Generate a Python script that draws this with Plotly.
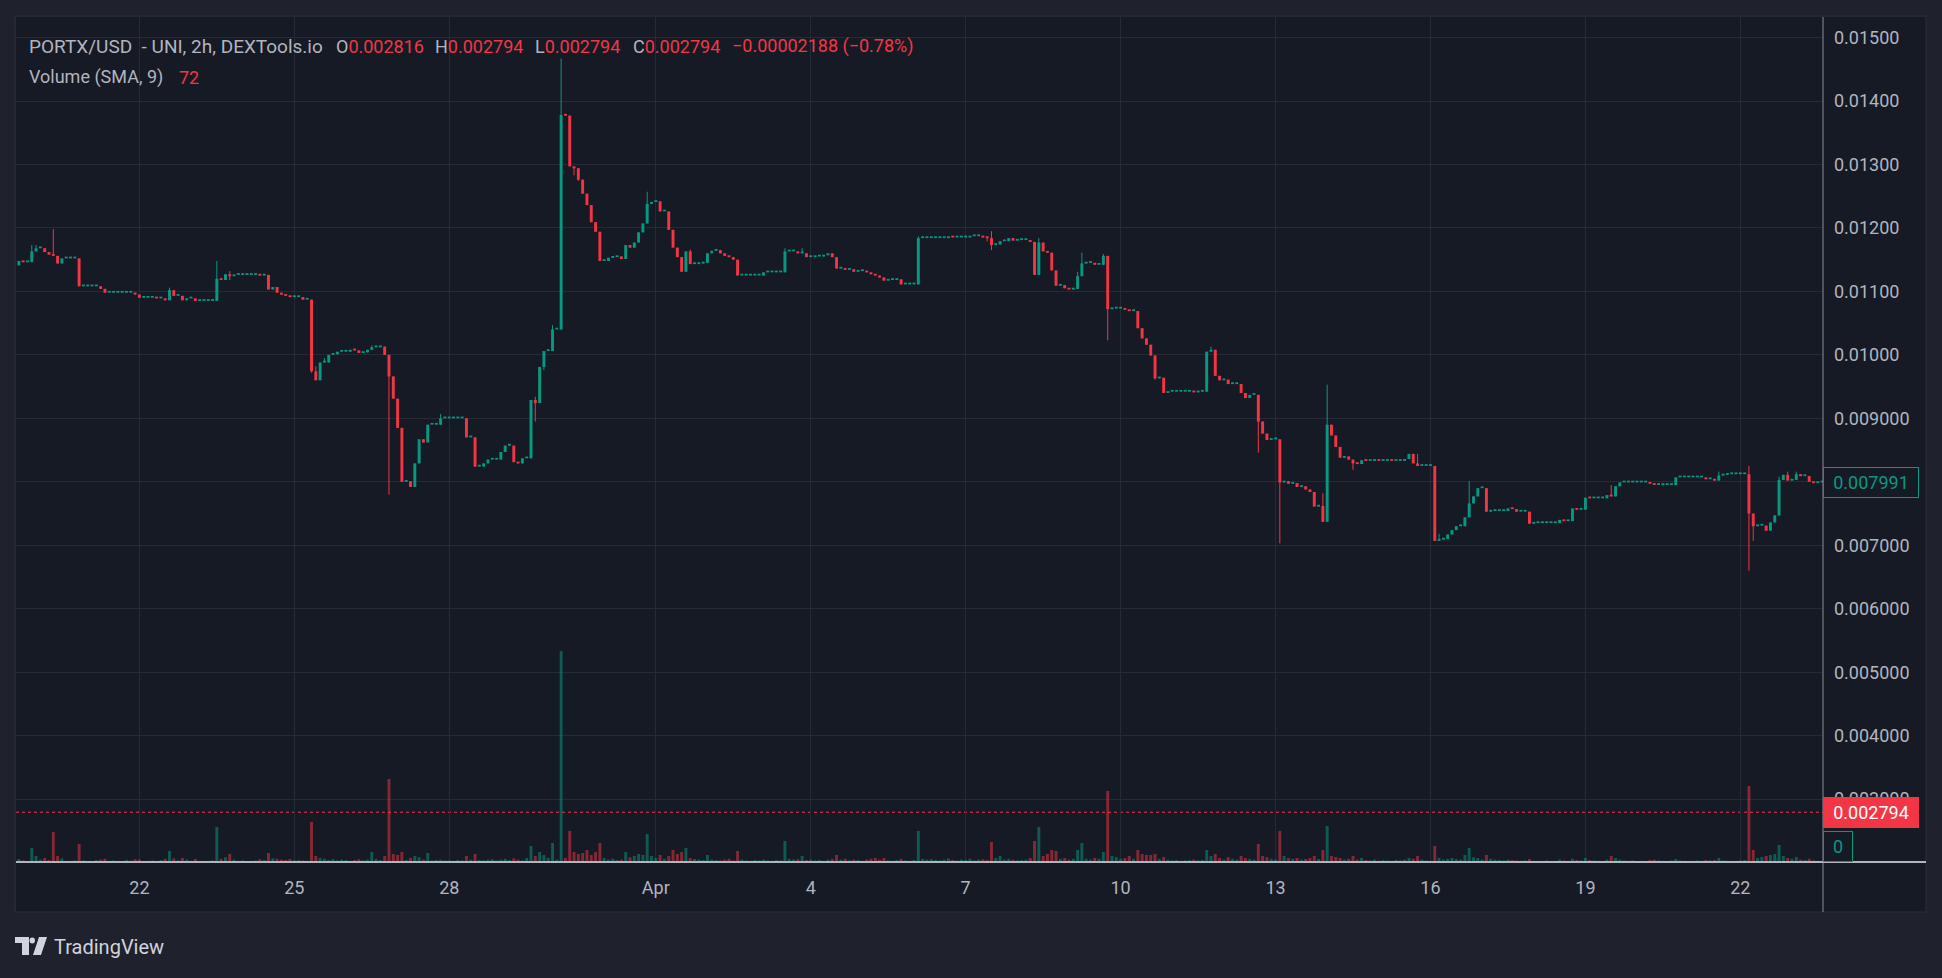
import pandas as pd
import plotly.graph_objects as go

# ---------------- data ----------------
START = "2024-03-19 16:00"          # first 2h candle
FIRST_OPEN = 0.01141

CLOSES = [
    0.01148, 0.01146, 0.01146, 0.01163, 0.01168, 0.01168, 0.01162, 0.01158, 0.01156, 0.01144,
    0.01152, 0.01152, 0.01152, 0.01152, 0.01108, 0.01108, 0.01108, 0.01108, 0.01108, 0.01104,
    0.01098, 0.01098, 0.01098, 0.01098, 0.01098, 0.01098, 0.01098, 0.01095, 0.01090, 0.01090,
    0.01090, 0.01090, 0.01089, 0.01089, 0.01086, 0.01102, 0.01093, 0.01093, 0.01086, 0.01089,
    0.01089, 0.01085, 0.01085, 0.01085, 0.01085, 0.01085, 0.01120, 0.01118, 0.01127, 0.01124,
    0.01126, 0.01126, 0.01126, 0.01126, 0.01126, 0.01126, 0.01125, 0.01126, 0.01103, 0.01107,
    0.01098, 0.01095, 0.01093, 0.01091, 0.01091, 0.01091, 0.01087, 0.01087, 0.00974, 0.00960,
    0.00988, 0.00988, 0.01000, 0.01001, 0.01005, 0.01005, 0.01005, 0.01008, 0.01007, 0.01003,
    0.01004, 0.01008, 0.01012, 0.01012, 0.01013, 0.01000, 0.00966, 0.00931, 0.00885, 0.00800,
    0.00801, 0.00792, 0.00829, 0.00867, 0.00862, 0.00890, 0.00890, 0.00890, 0.00900, 0.00900,
    0.00900, 0.00900, 0.00900, 0.00900, 0.00870, 0.00870, 0.00824, 0.00824, 0.00829, 0.00835,
    0.00835, 0.00835, 0.00847, 0.00857, 0.00857, 0.00831, 0.00829, 0.00837, 0.00837, 0.00929,
    0.00924, 0.00981, 0.01006, 0.01006, 0.01040, 0.01040, 0.01378, 0.01377, 0.01297, 0.01294,
    0.01276, 0.01254, 0.01236, 0.01209, 0.01194, 0.01148, 0.01148, 0.01153, 0.01154, 0.01155,
    0.01151, 0.01173, 0.01169, 0.01177, 0.01193, 0.01207, 0.01238, 0.01241, 0.01242, 0.01226,
    0.01226, 0.01197, 0.01169, 0.01154, 0.01131, 0.01163, 0.01143, 0.01143, 0.01144, 0.01145,
    0.01160, 0.01164, 0.01165, 0.01160, 0.01156, 0.01154, 0.01150, 0.01125, 0.01125, 0.01125,
    0.01125, 0.01125, 0.01125, 0.01130, 0.01130, 0.01130, 0.01130, 0.01130, 0.01163, 0.01163,
    0.01163, 0.01160, 0.01160, 0.01154, 0.01154, 0.01155, 0.01155, 0.01157, 0.01160, 0.01154,
    0.01136, 0.01136, 0.01134, 0.01135, 0.01131, 0.01132, 0.01132, 0.01130, 0.01127, 0.01125,
    0.01122, 0.01117, 0.01118, 0.01118, 0.01119, 0.01111, 0.01111, 0.01111, 0.01111, 0.01184,
    0.01184, 0.01184, 0.01184, 0.01184, 0.01184, 0.01184, 0.01186, 0.01185, 0.01185, 0.01185,
    0.01185, 0.01187, 0.01187, 0.01187, 0.01185, 0.01184, 0.01173, 0.01174, 0.01179, 0.01179,
    0.01184, 0.01180, 0.01181, 0.01181, 0.01181, 0.01178, 0.01126, 0.01177, 0.01163, 0.01161,
    0.01133, 0.01109, 0.01110, 0.01105, 0.01103, 0.01104, 0.01124, 0.01144, 0.01145, 0.01145,
    0.01142, 0.01142, 0.01156, 0.01072, 0.01073, 0.01073, 0.01073, 0.01071, 0.01069, 0.01069,
    0.01042, 0.01026, 0.01016, 0.00999, 0.00963, 0.00964, 0.00940, 0.00942, 0.00942, 0.00942,
    0.00942, 0.00942, 0.00942, 0.00941, 0.00942, 0.00942, 0.01005, 0.01008, 0.00967, 0.00960,
    0.00961, 0.00954, 0.00954, 0.00954, 0.00940, 0.00932, 0.00937, 0.00937, 0.00895, 0.00876,
    0.00866, 0.00867, 0.00867, 0.00799, 0.00801, 0.00797, 0.00798, 0.00792, 0.00793, 0.00788,
    0.00784, 0.00761, 0.00762, 0.00737, 0.00890, 0.00873, 0.00855, 0.00838, 0.00840, 0.00835,
    0.00829, 0.00828, 0.00834, 0.00833, 0.00833, 0.00834, 0.00833, 0.00833, 0.00834, 0.00833,
    0.00833, 0.00833, 0.00836, 0.00844, 0.00829, 0.00825, 0.00825, 0.00825, 0.00825, 0.00707,
    0.00709, 0.00710, 0.00717, 0.00724, 0.00730, 0.00730, 0.00744, 0.00766, 0.00777, 0.00790,
    0.00790, 0.00753, 0.00754, 0.00754, 0.00754, 0.00754, 0.00758, 0.00757, 0.00753, 0.00753,
    0.00753, 0.00734, 0.00735, 0.00735, 0.00735, 0.00735, 0.00735, 0.00735, 0.00740, 0.00738,
    0.00738, 0.00758, 0.00756, 0.00756, 0.00775, 0.00774, 0.00774, 0.00774, 0.00774, 0.00779,
    0.00777, 0.00793, 0.00799, 0.00799, 0.00799, 0.00799, 0.00799, 0.00799, 0.00799, 0.00797,
    0.00795, 0.00795, 0.00795, 0.00795, 0.00795, 0.00807, 0.00807, 0.00807, 0.00807, 0.00807,
    0.00807, 0.00807, 0.00804, 0.00804, 0.00802, 0.00810, 0.00811, 0.00812, 0.00812, 0.00812,
    0.00812, 0.00812, 0.00750, 0.00730, 0.00731, 0.00731, 0.00723, 0.00736, 0.00747, 0.00803,
    0.00811, 0.00802, 0.00803, 0.00812, 0.00809, 0.00809, 0.00800, 0.00798, 0.00799, 0.007991,
]

# wick extremes beyond the body (candle index -> price)
WICK_HIGH = {
    3: 0.01173, 4: 0.01173, 8: 0.01198, 35: 0.01106, 46: 0.01148, 49: 0.01132,
    69: 0.00982, 71: 0.00995, 82: 0.01015, 98: 0.00907, 120: 0.00934, 124: 0.01047,
    126: 0.01467, 146: 0.01257, 156: 0.01166, 178: 0.01168, 182: 0.01168, 209: 0.01187,
    226: 0.01195, 237: 0.01184, 246: 0.01131, 247: 0.01161, 252: 0.01159, 277: 0.01013,
    303: 0.00782, 304: 0.00953, 325: 0.00844, 330: 0.00718, 337: 0.00801, 370: 0.00795,
    395: 0.00816, 402: 0.00825, 409: 0.00808, 411: 0.00816, 413: 0.00816,
}
WICK_LOW = {
    49: 0.01118, 68: 0.00972, 86: 0.00780, 120: 0.00895, 122: 0.00976, 129: 0.01283,
    130: 0.01274, 225: 0.01179, 226: 0.01165, 253: 0.01023, 264: 0.00961, 288: 0.00846,
    293: 0.00703, 310: 0.00819, 402: 0.00660, 403: 0.00707,
}

VOLUMES = [
    75, 40, 25, 350, 150, 60, 100, 50, 750, 150,
    90, 30, 25, 40, 450, 40, 30, 25, 50, 60,
    80, 30, 40, 30, 25, 50, 35, 70, 60, 25,
    30, 40, 25, 50, 80, 275, 90, 40, 100, 60,
    30, 75, 30, 25, 30, 40, 875, 80, 120, 200,
    60, 30, 40, 25, 30, 40, 70, 50, 225, 90,
    80, 60, 50, 75, 40, 50, 40, 30, 1000, 150,
    100, 80, 50, 70, 40, 60, 50, 30, 50, 70,
    40, 60, 250, 80, 50, 150, 2075, 200, 175, 250,
    50, 100, 150, 120, 60, 225, 40, 50, 60, 40,
    40, 30, 50, 40, 150, 60, 200, 50, 40, 60,
    70, 40, 60, 80, 50, 90, 60, 40, 100, 400,
    150, 250, 175, 100, 475, 60, 5275, 100, 775, 250,
    200, 225, 300, 175, 250, 475, 100, 60, 80, 50,
    60, 250, 120, 150, 200, 175, 700, 150, 100, 175,
    80, 150, 300, 200, 250, 350, 100, 75, 60, 50,
    175, 60, 50, 40, 60, 80, 40, 275, 60, 40,
    30, 50, 40, 60, 40, 30, 50, 40, 525, 80,
    60, 70, 150, 50, 60, 40, 50, 30, 60, 80,
    175, 60, 80, 40, 60, 50, 30, 60, 80, 100,
    60, 100, 40, 30, 50, 80, 40, 30, 50, 775,
    80, 60, 70, 50, 40, 60, 90, 50, 40, 60,
    50, 80, 40, 60, 70, 50, 500, 100, 150, 60,
    80, 60, 40, 50, 60, 100, 525, 875, 150, 200,
    300, 275, 80, 100, 60, 80, 300, 475, 80, 60,
    100, 80, 250, 1775, 150, 120, 80, 100, 150, 80,
    300, 200, 175, 175, 200, 80, 125, 60, 40, 50,
    30, 40, 50, 60, 40, 50, 300, 150, 200, 100,
    60, 120, 80, 60, 150, 100, 80, 60, 450, 150,
    120, 80, 60, 775, 150, 100, 80, 100, 60, 75,
    100, 150, 75, 300, 900, 150, 125, 100, 60, 80,
    150, 60, 100, 50, 40, 60, 30, 50, 40, 30,
    50, 40, 60, 100, 80, 150, 60, 40, 30, 400,
    100, 60, 80, 100, 75, 60, 175, 350, 120, 100,
    60, 175, 80, 60, 50, 40, 60, 50, 40, 30,
    40, 75, 30, 25, 30, 40, 25, 30, 60, 40,
    30, 80, 50, 40, 100, 50, 40, 30, 25, 60,
    150, 100, 60, 40, 30, 40, 25, 30, 20, 50,
    60, 40, 30, 25, 40, 75, 40, 30, 25, 30,
    40, 30, 50, 40, 50, 100, 40, 30, 25, 30,
    40, 50, 1900, 300, 100, 125, 150, 175, 200, 425,
    150, 100, 80, 125, 60, 50, 80, 40, 30, 0,
]

PRICE_TICKS = [0.003, 0.004, 0.005, 0.006, 0.007, 0.008, 0.009,
               0.010, 0.011, 0.012, 0.013, 0.014, 0.015]
TIME_TICKS = ["2024-03-22", "2024-03-25", "2024-03-28", "2024-04-01", "2024-04-04",
              "2024-04-07", "2024-04-10", "2024-04-13", "2024-04-16", "2024-04-19",
              "2024-04-22"]
TIME_LABELS = ["22", "25", "28", "Apr", "4", "7", "10", "13", "16", "19", "22"]

LAST_PRICE = 0.007991
LINE_PRICE = 0.002794
LAST_VOLUME = 0

# ---------------- styling ----------------
UP = "#089981"
DOWN = "#f23645"
UP_VOL = "rgba(8,153,129,0.5)"
DOWN_VOL = "rgba(242,54,69,0.5)"
BG = "#161a25"
OUTER = "#1f222d"
GRID = "#262a35"
TXT = "#b2b5be"
FONT = "Roboto"
FS = 18

W, H = 1942, 978
PL, PR, PT, PB = 16, 1823, 17, 862     # plot area in pixels
PANEL_R, PANEL_B = 1926, 912


def px(x):
    return (x - PL) / (PR - PL)


def py(y):
    return (PB - y) / (PB - PT)


times = pd.date_range(START, periods=len(CLOSES), freq="2h")
opens = [FIRST_OPEN] + CLOSES[:-1]
up = [c >= o for o, c in zip(opens, CLOSES)]
highs = [max(o, c, WICK_HIGH.get(i, 0)) for i, (o, c) in enumerate(zip(opens, CLOSES))]
lows = [min(o, c, WICK_LOW.get(i, 1)) for i, (o, c) in enumerate(zip(opens, CLOSES))]

MIN_BODY = 0.000028
bases = [min(o, c) for o, c in zip(opens, CLOSES)]
heights = [max(abs(c - o), MIN_BODY) for o, c in zip(opens, CLOSES)]
body_colors = [UP if u else DOWN for u in up]
vol_colors = [UP_VOL if u else DOWN_VOL for u in up]
BAR_MS = 2 * 3600 * 1000 * 0.68

fig = go.Figure()

fig.add_trace(go.Bar(x=times, y=VOLUMES, yaxis="y2", width=BAR_MS,
                     marker=dict(color=vol_colors, line=dict(width=0)),
                     hoverinfo="skip", showlegend=False))

for flag, col in ((True, UP), (False, DOWN)):
    wx, wy = [], []
    for t, u, hi, lo in zip(times, up, highs, lows):
        if u == flag:
            wx += [t, t, None]
            wy += [lo, hi, None]
    fig.add_trace(go.Scatter(x=wx, y=wy, mode="lines", line=dict(color=col, width=1),
                             hoverinfo="skip", showlegend=False, connectgaps=False))

fig.add_trace(go.Bar(x=times, y=heights, base=bases, width=BAR_MS,
                     marker=dict(color=body_colors, line=dict(width=0)),
                     hoverinfo="skip", showlegend=False))

p_per_px = 0.001 / 63.47
y_top = 0.014 + (101 - PT) * p_per_px
y_bot = 0.014 - (PB - 101) * p_per_px

fig.update_layout(
    width=W, height=H, autosize=False,
    margin=dict(l=PL, r=W - PR, t=PT, b=H - PB, pad=0),
    paper_bgcolor=OUTER, plot_bgcolor=BG,
    font=dict(family=FONT, size=FS, color=TXT),
    hovermode=False, showlegend=False, barmode="overlay",
    xaxis=dict(type="date", range=["2024-03-19 14:40", "2024-04-23 14:25"],
               tickvals=TIME_TICKS, ticktext=TIME_LABELS, showgrid=True,
               gridcolor=GRID, gridwidth=1, zeroline=False, showline=False,
               ticks="", ticklabelstandoff=13, tickfont=dict(size=FS, color=TXT)),
    yaxis=dict(side="right", range=[y_bot, y_top], tickvals=PRICE_TICKS,
               tickformat=".4r", showgrid=True, gridcolor=GRID, gridwidth=1,
               zeroline=False, showline=False, ticks="", ticklabelstandoff=10,
               tickfont=dict(size=FS, color=TXT)),
    yaxis2=dict(overlaying="y", range=[0, 21125], visible=False, showgrid=False),
)

shapes = [
    # right price-scale panel and bottom time-scale panel
    dict(type="rect", xref="paper", yref="paper", x0=px(PR), x1=px(PANEL_R),
         y0=py(PANEL_B), y1=py(PT), fillcolor=BG, line=dict(width=0), layer="below"),
    dict(type="rect", xref="paper", yref="paper", x0=px(PL), x1=px(PANEL_R),
         y0=py(PANEL_B), y1=py(PB), fillcolor=BG, line=dict(width=0), layer="below"),
    dict(type="rect", xref="paper", yref="paper", x0=px(PL - 1), x1=px(PANEL_R),
         y0=py(PANEL_B), y1=py(PT - 1), line=dict(color="#2a2e39", width=1), layer="below"),
    # separators
    dict(type="line", xref="paper", yref="paper", x0=px(PR), x1=px(PR),
         y0=py(PANEL_B), y1=py(PT), line=dict(color="#8a8d97", width=1)),
    dict(type="line", xref="paper", yref="paper", x0=px(PL), x1=px(PANEL_R),
         y0=py(PB), y1=py(PB), line=dict(color="#b2b5be", width=2)),
    # price line (dotted)
    dict(type="line", xref="paper", yref="y", x0=0, x1=1, y0=LINE_PRICE, y1=LINE_PRICE,
         line=dict(color=DOWN, width=1, dash="dot"), layer="below"),
]

# TradingView logo glyph
def path_px(pts):
    return "M " + " L ".join(f"{px(x)},{py(y)}" for x, y in pts) + " Z"

LOGO = "#d1d4dc"
shapes += [
    dict(type="path", xref="paper", yref="paper", fillcolor=LOGO, line=dict(width=0),
         path=path_px([(15, 937), (29, 937), (29, 955), (22, 955), (22, 943), (15, 943)])),
    dict(type="circle", xref="paper", yref="paper", fillcolor=LOGO, line=dict(width=0),
         x0=px(29.5), x1=px(35), y0=py(943.5), y1=py(937.5)),
    dict(type="path", xref="paper", yref="paper", fillcolor=LOGO, line=dict(width=0),
         path=path_px([(39, 937), (47, 937), (41, 955), (33, 955)])),
]
fig.update_layout(shapes=shapes)

ann = []


def label(x, y, text, color=TXT, size=FS):
    ann.append(dict(xref="paper", yref="paper", x=px(x), y=py(y), text=text,
                    showarrow=False, xanchor="left", yanchor="middle",
                    font=dict(family=FONT, size=size, color=color)))


R = DOWN
LY1, LY2 = 46, 77
label(27, LY1, "PORTX/USD\u00a0\u00a0- UNI, 2h, DEXTools.io", size=19)
label(334, LY1, f"O<span style='color:{R}'>0.002816</span>")
label(433, LY1, f"H<span style='color:{R}'>0.002794</span>")
label(533, LY1, f"L<span style='color:{R}'>0.002794</span>")
label(631, LY1, f"C<span style='color:{R}'>0.002794</span>")
label(730, LY1, "−0.00002188 (−0.78%)", color=R)
label(27, LY2, "Volume (SMA, 9)")
label(177, LY2, "72", color=R)
label(52, 947, "TradingView", color=LOGO, size=20)


def box(yval_px, text, fg, bg, border, wid):
    ann.append(dict(xref="paper", yref="paper", x=px(PR), y=py(yval_px), text=text,
                    showarrow=False, xanchor="left", yanchor="middle", align="center",
                    width=wid, height=25, borderpad=2, borderwidth=1,
                    bgcolor=bg, bordercolor=border,
                    font=dict(family=FONT, size=FS, color=fg)))


def price_to_px(p):
    return 101 + (0.014 - p) / p_per_px


box(price_to_px(LAST_PRICE), f"{LAST_PRICE:.6f}", UP, BG, UP, 90)
box(price_to_px(LINE_PRICE), f"{LINE_PRICE:.6f}", "#ffffff", DOWN, DOWN, 90)
box(846, f"{LAST_VOLUME}", UP, BG, UP, 24)

fig.update_layout(annotations=ann)

fig.write_html(
    "out.html",
    config={"displayModeBar": False, "staticPlot": True},
    post_script="document.body.style.margin='0';document.body.style.overflow='hidden';"
                "document.body.style.background='" + OUTER + "';",
)
